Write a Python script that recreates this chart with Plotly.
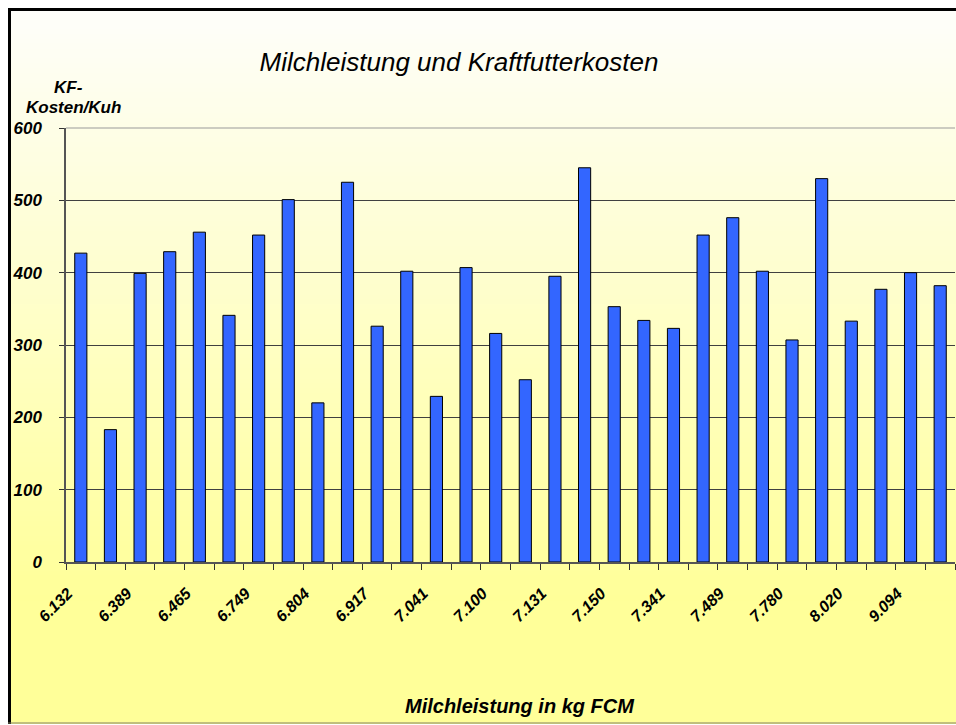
import plotly.graph_objects as go

# ---- data ----
bar_index = list(range(30))
kf_kosten = [427, 183, 399, 429, 456, 341, 452, 501, 220, 525,
             326, 402, 229, 407, 316, 252, 395, 545, 353, 334,
             323, 452, 476, 402, 307, 530, 333, 377, 400, 382]
tick_labels = ["6.132", "6.389", "6.465", "6.749", "6.804", "6.917", "7.041", "7.100",
               "7.131", "7.150", "7.341", "7.489", "7.780", "8.020", "9.094"]
tick_positions = bar_index[::2]
y_ticks = [0, 100, 200, 300, 400, 500, 600]

W, H = 956, 725
L, R, T, B = 66, 1, 128, 725 - 562
pw, ph = W - L - R, H - T - B

def px_x(sx):
    return (sx - L) / pw

def px_y(sy):
    return (H - B - sy) / ph

font_bi = "Liberation Sans, Arial, sans-serif"

fig = go.Figure()
fig.add_trace(go.Bar(
    x=bar_index, y=kf_kosten, width=0.41,
    marker=dict(color="#3366FF", line=dict(color="#000000", width=1)),
    showlegend=False, hoverinfo="y",
))

shapes = []
shapes.append(dict(type="rect", xref="paper", yref="paper",
                   x0=px_x(8), x1=px_x(970), y0=px_y(724), y1=px_y(8),
                   fillcolor="#FFFF99", line=dict(width=0), layer="below"))
top_px, bot_px = 9, 600
n = 120
c0 = (254, 254, 250)
c1 = (255, 255, 153)
for i in range(n):
    f = i / (n - 1)
    col = tuple(round(c0[k] + (c1[k] - c0[k]) * f) for k in range(3))
    y_a = top_px + (bot_px - top_px) * i / n
    y_b = top_px + (bot_px - top_px) * (i + 1) / n + 0.8
    shapes.append(dict(type="rect", xref="paper", yref="paper",
                       x0=px_x(8), x1=px_x(970), y0=px_y(y_b), y1=px_y(y_a),
                       fillcolor="rgb(%d,%d,%d)" % col, line=dict(width=0), layer="below"))
shapes.append(dict(type="line", xref="paper", yref="paper",
                   x0=px_x(9.5), x1=px_x(9.5), y0=px_y(724), y1=px_y(8),
                   line=dict(color="#000000", width=3)))
shapes.append(dict(type="line", xref="paper", yref="paper",
                   x0=px_x(8), x1=px_x(970), y0=px_y(9.5), y1=px_y(9.5),
                   line=dict(color="#000000", width=3)))
shapes.append(dict(type="line", xref="paper", yref="paper",
                   x0=px_x(8), x1=px_x(970), y0=px_y(723), y1=px_y(723),
                   line=dict(color="#808060", width=1)))
shapes.append(dict(type="line", xref="paper", yref="paper",
                   x0=0, x1=1, y0=1, y1=1, line=dict(color="#9a9a9a", width=1.2)))

fig.update_layout(
    width=W, height=H,
    margin=dict(l=L, r=R, t=T, b=B, pad=0),
    paper_bgcolor="#FFFFFF",
    plot_bgcolor="rgba(0,0,0,0)",
    shapes=shapes,
    title=dict(text="<i>Milchleistung und Kraftfutterkosten</i>",
               font=dict(family=font_bi, size=26, color="#000000"),
               x=459 / W, xanchor="center", xref="container",
               y=1 - 62 / H, yanchor="middle", yref="container"),
    xaxis=dict(
        range=[-0.5, 29.5], tickmode="array",
        tickvals=tick_positions, ticktext=tick_labels,
        tickangle=-45, ticks="", showgrid=False, zeroline=False,
        showline=True, linecolor="#555555", linewidth=1.5,
        tickfont=dict(family=font_bi, size=16, color="#000000", weight="bold", style="italic"),
        ticklabelstandoff=14, ticklabelshift=-13, fixedrange=True,
        minor=dict(ticks="outside", tickmode="linear", tick0=-0.5, dtick=1,
                   ticklen=6, tickwidth=1.3, tickcolor="#333333", showgrid=False),
    ),
    yaxis=dict(
        range=[0, 600], tickmode="array", tickvals=y_ticks,
        ticks="outside", ticklen=5, tickcolor="#333333", tickwidth=1.2,
        showgrid=True, gridcolor="#404040", gridwidth=1.3,
        zeroline=False, showline=True, linecolor="#555555", linewidth=1.5,
        tickfont=dict(family=font_bi, size=17, color="#000000", weight="bold", style="italic"),
        ticklabelstandoff=14, fixedrange=True,
    ),
    annotations=[
        dict(text="KF-", xref="paper", yref="paper", x=px_x(68), y=px_y(88),
             xanchor="center", yanchor="middle", showarrow=False,
             font=dict(family=font_bi, size=17, color="#000000", weight="bold", style="italic")),
        dict(text="Kosten/Kuh", xref="paper", yref="paper", x=px_x(73), y=px_y(107),
             xanchor="center", yanchor="middle", showarrow=False,
             font=dict(family=font_bi, size=17, color="#000000", weight="bold", style="italic")),
        dict(text="Milchleistung in kg FCM", xref="paper", yref="paper", x=px_x(520), y=px_y(706),
             xanchor="center", yanchor="middle", showarrow=False,
             font=dict(family=font_bi, size=20, color="#000000", weight="bold", style="italic")),
    ],
)

fig.write_html("out.html", config={"displayModeBar": False},
               post_script="document.body.style.margin='0';document.body.style.overflow='hidden';")
